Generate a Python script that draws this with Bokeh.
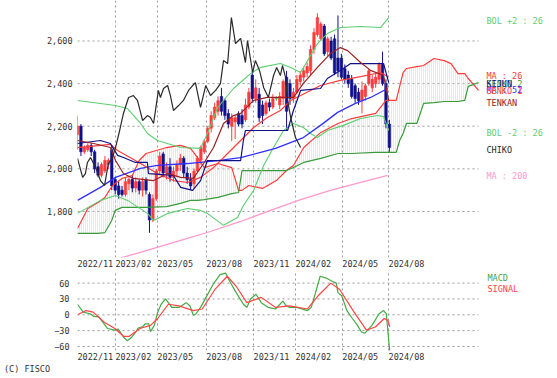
from bokeh.plotting import figure
from bokeh.layouts import column
from bokeh.models import Range1d, FixedTicker, NumeralTickFormatter, Label, Grid, Div
from bokeh.embed import file_html
from bokeh.resources import INLINE

# ---------------- data (weekly candles, index = week number) ----------------
weeks = list(range(92))
opens = [2160, 2200, 2080, 2090, 2110, 2080, 2010, 1970, 1990, 2020,
         2090, 1950, 1920, 1900, 1880, 1930, 1950, 1910, 1940, 1900,
         1950, 1880, 1760, 1860, 1990, 2070, 1980, 2010, 1960, 1990,
         2020, 2050, 1980, 1950, 1930, 1990, 2040, 2080, 2130, 2190,
         2240, 2270, 2340, 2320, 2260, 2200, 2220, 2260, 2250, 2230,
         2290, 2440, 2330, 2350, 2300, 2260, 2310, 2290, 2330, 2300,
         2330, 2430, 2400, 2330, 2360, 2410, 2430, 2450, 2460, 2560,
         2630, 2610, 2670, 2550, 2600, 2610, 2520, 2520, 2470, 2440,
         2420, 2390, 2360, 2320, 2340, 2400, 2380, 2400, 2420, 2490,
         2400, 2210]
highs = [2250, 2210, 2110, 2120, 2120, 2090, 2030, 2030, 2060, 2050,
         2110, 1960, 1940, 1920, 1960, 1960, 1970, 1960, 1950, 1960,
         1960, 1890, 1880, 2000, 2080, 2080, 2030, 2050, 2010, 2040,
         2070, 2060, 2010, 1980, 2000, 2060, 2110, 2140, 2200, 2270,
         2310, 2340, 2380, 2330, 2280, 2260, 2250, 2270, 2280, 2330,
         2380, 2460, 2420, 2380, 2320, 2320, 2330, 2350, 2340, 2360,
         2420, 2460, 2420, 2380, 2440, 2460, 2480, 2500, 2580, 2660,
         2730, 2690, 2680, 2620, 2620, 2630, 2720, 2540, 2490, 2460,
         2440, 2400, 2380, 2410, 2400, 2470, 2440, 2450, 2500, 2550,
         2420, 2230]
lows = [2090, 2060, 2070, 2080, 2060, 1980, 1960, 1960, 1980, 2000,
        1900, 1880, 1860, 1870, 1870, 1900, 1890, 1890, 1880, 1870,
        1880, 1700, 1750, 1850, 1970, 1960, 1950, 1940, 1940, 1960,
        1990, 1960, 1930, 1900, 1910, 1980, 2020, 2070, 2120, 2170,
        2230, 2250, 2250, 2230, 2190, 2130, 2140, 2200, 2190, 2220,
        2280, 2310, 2310, 2220, 2210, 2250, 2270, 2280, 2320, 2280,
        2300, 2180, 2300, 2310, 2350, 2390, 2410, 2430, 2440, 2540,
        2620, 2600, 2530, 2530, 2510, 2440, 2430, 2420, 2400, 2380,
        2330, 2310, 2300, 2260, 2320, 2390, 2360, 2380, 2400, 2390,
        2190, 2080]
closes = [2200, 2080, 2100, 2110, 2080, 2000, 1970, 2020, 2040, 2040,
          1920, 1900, 1880, 1880, 1940, 1950, 1910, 1940, 1900, 1940,
          1900, 1760, 1860, 1990, 2060, 1980, 2010, 1960, 1990, 2020,
          2050, 1980, 1950, 1920, 1990, 2050, 2100, 2130, 2190, 2250,
          2290, 2320, 2270, 2250, 2210, 2240, 2240, 2210, 2210, 2300,
          2360, 2330, 2380, 2240, 2250, 2310, 2290, 2330, 2330, 2340,
          2410, 2270, 2330, 2360, 2420, 2440, 2460, 2480, 2560, 2640,
          2710, 2680, 2540, 2610, 2520, 2450, 2460, 2430, 2420, 2400,
          2340, 2330, 2320, 2370, 2390, 2460, 2420, 2430, 2490, 2400,
          2210, 2100]

# Ichimoku cloud (senkou spans, shifted 26 weeks ahead)
senkou_weeks = [0, 3, 6, 8, 10, 11, 13, 16, 18, 20, 26, 30, 33, 35, 37, 41, 45, 47, 48, 50,
                54, 58, 61, 63, 66, 71, 76, 80, 87, 90, 93, 94, 95, 96, 99, 101, 104, 107,
                109, 111, 113, 114, 117]
senkou1 = [1720, 1814, 1842, 1866, 1917, 1931, 1955, 1969, 2039, 2072, 2100, 2110, 2096, 2053,
           2006, 2025, 2006, 1899, 1899, 1922, 1908, 1945, 1992, 2016, 2100, 2171, 2213, 2236,
           2260, 2321, 2321, 2387, 2452, 2471, 2480, 2485, 2518, 2508, 2494, 2447, 2447, 2424,
           2368]
senkou2 = [1697, 1697, 1697, 1701, 1758, 1805, 1819, 1819, 1819, 1819, 1823, 1838, 1852, 1852,
           1856, 1866, 1884, 1889, 1992, 1992, 1992, 1992, 1992, 2006, 2030, 2049, 2072, 2072,
           2077, 2077, 2077, 2133, 2166, 2213, 2213, 2307, 2311, 2316, 2316, 2316, 2321, 2387,
           2405]

chiko_weeks = [0, 1.5, 2.3, 2.9, 3.8, 5.3, 6.7, 7.9, 9.0, 10.2, 11.1, 12.3, 13.4, 14.9, 16.3,
               17.5, 19.0, 20.4, 21.3, 22.2, 23.6, 24.2, 25.1, 26.3, 27.1, 28.0, 29.5, 30.9,
               32.4, 33.6, 34.4, 35.9, 37.4, 38.8, 40.3, 41.7, 42.6, 43.8, 44.9, 46.1, 47.6,
               49.0, 49.6, 51.1, 51.9, 53.1, 54.3, 55.7, 57.2, 58.1, 59.2, 59.8, 60.7, 61.3,
               62.2, 63.6, 65.1]
chiko = [2049, 1960, 1978, 2030, 2053, 2006, 1945, 1922, 2025, 2053, 2100, 2180, 2260, 2335,
         2344, 2321, 2227, 2250, 2241, 2213, 2368, 2335, 2377, 2391, 2344, 2274, 2297, 2321,
         2368, 2391, 2405, 2288, 2391, 2344, 2368, 2400, 2508, 2494, 2710, 2588, 2612, 2499,
         2602, 2452, 2508, 2462, 2382, 2335, 2438, 2476, 2438, 2485, 2429, 2321, 2241, 2147,
         2100]

ma26_weeks = [0, 9.6, 11.7, 18.4, 23.3, 28.0, 32.1, 35.9, 39.7, 43.8, 47.6, 51.4, 55.4, 59.2,
              62.2, 65.1, 70.9, 76.7, 82.6, 88.4, 90.5]
ma26 = [2100, 2115, 2086, 2025, 1978, 1945, 1936, 1960, 2006, 2072, 2133, 2194, 2241, 2274,
        2321, 2344, 2391, 2415, 2433, 2452, 2433]

ma52_weeks = [0, 6.7, 11.1, 18.4, 23.3, 32.1, 40.9, 47.6, 53.4, 57.8, 65.9, 70.9, 75.9, 81.1,
              85.5, 90.5]
ma52 = [1852, 1913, 1960, 2002, 2016, 2025, 2039, 2053, 2077, 2096, 2147, 2204, 2265, 2307,
        2335, 2377]

ma200_weeks = [12.0, 21.3, 30.1, 38.8, 47.6, 56.3, 65.1, 73.8, 82.6, 90.5]
ma200 = [1579, 1622, 1664, 1706, 1753, 1805, 1856, 1899, 1936, 1969]

bolu_weeks = [0, 6.7, 11.1, 14.6, 18.4, 20.4, 23.3, 30.1, 35.9, 37.9, 40.9, 45.5, 50.5, 53.4,
              59.2, 62.2, 65.1, 68.0, 70.0, 72.9, 76.7, 82.6, 88.4, 90.8]
bol_up = [2321, 2307, 2297, 2283, 2213, 2166, 2133, 2100, 2096, 2166, 2288, 2377, 2447, 2476,
          2494, 2476, 2452, 2532, 2588, 2635, 2663, 2668, 2663, 2710]

boll_weeks = [0, 6.7, 11.1, 14.6, 20.4, 22.2, 26.3, 32.1, 35.9, 37.9, 42.6, 46.7, 48.4, 51.4,
              54.3, 57.2, 60.1, 63.0, 65.9, 68.0, 70.0, 72.9, 77.6, 82.6, 87.5, 89.3, 90.8]
bol_low = [1791, 1852, 1875, 1852, 1791, 1758, 1791, 1814, 1805, 1791, 1735, 1772, 1828, 1899,
           2016, 2100, 2180, 2213, 2194, 2166, 2147, 2180, 2204, 2236, 2250, 2245, 2180]

tenkan_weeks = [0, 4.7, 9.6, 11.1, 13.4, 16.3, 22.2, 26.3, 30.1, 33.8, 36.8, 39.7, 42.6, 45.5,
                47.6, 51.4, 55.4, 63.0, 65.9, 70.0, 73.8, 76.7, 78.8, 82.6, 85.5, 89.3, 90.8]
tenkan = [2133, 2119, 2100, 2039, 1978, 1955, 1945, 1978, 1960, 1955, 2025, 2100, 2213, 2250,
          2260, 2321, 2335, 2335, 2401, 2476, 2541, 2569, 2555, 2499, 2462, 2438, 2321]

kijun_weeks = [0, 6.7, 9.6, 11.7, 13.4, 16.9, 20.4, 20.7, 28.0, 30.1, 33.6, 35.9, 37.9, 47.6,
               48.4, 49.0, 61.3, 63.0, 65.1, 70.9, 72.9, 76.7, 79.7, 89.3, 90.8]
kijun = [2119, 2133, 2119, 2063, 2053, 2030, 2030, 1978, 1969, 1913, 1899, 1945, 2039, 2039,
         2133, 2180, 2180, 2274, 2368, 2377, 2424, 2462, 2494, 2494, 2405]

macd_weeks = [0.0, 1.7, 3.6, 4.8, 6.2, 8.8, 10.9, 11.9, 13.5, 14.5, 15.6, 17.1, 17.7, 19.0,
              19.7, 20.8, 21.3, 22.4, 23.4, 24.4, 25.7, 26.5, 27.5, 29.6, 31.7, 32.8, 33.8,
              34.6, 35.9, 37.5, 39.5, 41.6, 43.2, 44.2, 46.3, 48.4, 49.4, 50.5, 52.1, 53.6,
              55.7, 57.8, 59.9, 60.9, 61.9, 64.0, 67.1, 68.2, 69.2, 70.8, 72.4, 74.4, 75.5,
              76.0, 77.1, 78.6, 80.2, 81.7, 82.8, 83.8, 85.9, 88.0, 89.3, 90.1, 91.1]
macd = [20, 5, 2, -3, -4, -26, -29, -27, -43, -49, -44, -32, -25, -23, -17, -17, -32, -20, 5,
        20, 30, 23, 14, 14, 23, 17, -1, 2, 14, 33, 57, 76, 79, 66, 42, 20, 14, 30, 39, 23, 14,
        11, 26, 17, 14, 14, 8, 14, 36, 73, 70, 63, 60, 42, 36, 8, -7, -20, -32, -35, -20, 2, 8,
        2, -69]
signal_weeks = [0.0, 2.5, 4.6, 7.8, 10.9, 13.5, 15.0, 18.2, 21.3, 23.4, 26.5, 29.6, 33.8, 36.4,
                40.1, 43.7, 46.3, 49.4, 53.6, 57.8, 61.9, 67.1, 70.2, 73.9, 76.5, 80.7, 84.3,
                86.9, 89.5, 90.6, 91.1]
signal = [0, 8, 5, -14, -26, -41, -41, -26, -20, -7, 20, 17, 8, 11, 48, 73, 54, 23, 33, 14, 17,
          11, 36, 60, 48, 5, -29, -23, -7, -11, -23]

grid_weeks = [0, 11.1, 23.3, 37.6, 51.4, 63.6, 77.3, 90.8]
month_labels = ["2022/11", "2023/02", "2023/05", "2023/08", "2023/11", "2024/02", "2024/05", "2024/08"]
price_ticks = [1800, 2000, 2200, 2400, 2600]
macd_ticks = [-60, -30, 0, 30, 60]
chart_end_week = 117

# ---------------- styling / layout ----------------
FONT = "DejaVu Sans Mono"
FS = "8.5px"
TXT = "#333333"
GRIDC = "#999999"
DASH = "2 3"
RED = "#ff3b3b"
NAVY = "#10108a"
GREEN = "#3a9a3a"
LGREEN = "#5ccf70"
BLUE = "#3030ff"
PINK = "#ff99cc"
DRED = "#992222"
BLACK = "#2a2a2a"

PX_PER_WEEK = 401 / 117
FRAME_W = 480                  # frame spans chart area + right legend column
X0, X1 = 0, FRAME_W / PX_PER_WEEK
PY0, PY1 = 1584, 2790
MY0, MY1 = -67.6, 82.0
MAIN_H = 257
MACD_TOP = 270
MACD_H = 79
LABEL_SHIFT = 5.2              # centre of a tick label, right of its grid line (weeks)


def style(fig, hticks):
    fig.outline_line_color = None
    fig.background_fill_color = "white"
    fig.border_fill_color = "white"
    fig.ygrid.grid_line_color = None
    fig.xgrid.grid_line_color = None
    for ax in (fig.yaxis[0], fig.xaxis[0]):
        ax.axis_line_color = None
        ax.major_tick_line_color = None
        ax.minor_tick_line_color = None
        ax.major_tick_out = 0
        ax.major_tick_in = 0
        ax.major_label_text_font = FONT
        ax.major_label_text_font_size = FS
        ax.major_label_text_color = TXT
    fig.yaxis.ticker = FixedTicker(ticks=hticks)
    label_pos = [round(k + LABEL_SHIFT, 2) for k in grid_weeks]
    fig.xaxis.ticker = FixedTicker(ticks=label_pos)
    fig.xaxis.major_label_overrides = {k: t for k, t in zip(label_pos, month_labels)}
    fig.xaxis.major_label_standoff = 1
    fig.add_layout(Grid(dimension=0, ticker=FixedTicker(ticks=grid_weeks),
                        grid_line_color=GRIDC, grid_line_dash=DASH))
    fig.segment(x0=[0] * len(hticks), x1=[chart_end_week] * len(hticks), y0=hticks, y1=hticks,
                line_color=GRIDC, line_dash=DASH, line_width=1)


p = figure(frame_width=FRAME_W, frame_height=MAIN_H, x_range=Range1d(X0, X1),
           y_range=Range1d(PY0, PY1), toolbar_location=None, output_backend="svg",
           min_border_left=77, min_border_right=0, min_border_top=0, min_border_bottom=13)
style(p, price_ticks)
p.yaxis.formatter = NumeralTickFormatter(format="0,0")
p.yaxis.major_label_standoff = 5

# cloud
p.varea(x=senkou_weeks, y1=senkou1, y2=senkou2, fill_color=None,
        hatch_pattern="vertical_line", hatch_color="#d2d2d2", hatch_scale=2, hatch_weight=1)

# candles
colors = [RED if c > o else (NAVY if c < o else GREEN) for o, c in zip(opens, closes)]
tops = [max(o, c) for o, c in zip(opens, closes)]
bots = [min(o, c) for o, c in zip(opens, closes)]
p.segment(x0=weeks, y0=lows, x1=weeks, y1=highs, color=colors, line_width=1)
p.vbar(x=weeks, width=0.72, top=tops, bottom=bots, fill_color=colors, line_color=colors,
       line_width=0.6)

# indicator lines
p.line(senkou_weeks, senkou1, color=RED, line_width=1.2)
p.line(senkou_weeks, senkou2, color=GREEN, line_width=1.2)
p.line(ma200_weeks, ma200, color=PINK, line_width=1.3)
p.line(bolu_weeks, bol_up, color=LGREEN, line_width=1.1)
p.line(boll_weeks, bol_low, color=LGREEN, line_width=1.1)
p.line(ma52_weeks, ma52, color=BLUE, line_width=1.3)
p.line(ma26_weeks, ma26, color=RED, line_width=1.2)
p.line(kijun_weeks, kijun, color=NAVY, line_width=1.2)
p.line(tenkan_weeks, tenkan, color=DRED, line_width=1.2)
p.line(chiko_weeks, chiko, color=BLACK, line_width=1.2)


def mx(px):
    return (px - 77) / PX_PER_WEEK


def my(py):
    return PY1 - py * (PY1 - PY0) / MAIN_H


def add_text(fig, x, y, text, color):
    fig.add_layout(Label(x=x, y=y, text=text, text_color=color, text_font=FONT,
                         text_font_size=FS, text_align="left", text_baseline="middle"))


right_labels = [("BOL +2 : 26", LGREEN, 20), ("MA : 26", RED, 75), ("SENKO 2", GREEN, 83),
                ("KIJUN", NAVY, 83), ("MA : 52", BLUE, 89), ("SENKO 1", RED, 90),
                ("TENKAN", DRED, 102), ("BOL -2 : 26", LGREEN, 132), ("CHIKO", BLACK, 149),
                ("MA : 200", PINK, 175)]
for t, c, py in right_labels:
    add_text(p, mx(486), my(py), t, c)

# ---------------- MACD panel ----------------
q = figure(frame_width=FRAME_W, frame_height=MACD_H, x_range=p.x_range,
           y_range=Range1d(MY0, MY1), toolbar_location=None, output_backend="svg",
           min_border_left=77, min_border_right=0, min_border_top=0, min_border_bottom=13)
style(q, macd_ticks)
q.yaxis.major_label_standoff = 8
q.line(macd_weeks, macd, color="#44aa44", line_width=1.2)
q.line(signal_weeks, signal, color="#ff4444", line_width=1.2)


def qy(py):
    return MY1 - (py - MACD_TOP) * (MY1 - MY0) / MACD_H


add_text(q, mx(487), qy(276), "MACD", "#44aa44")
add_text(q, mx(487), qy(287), "SIGNAL", "#ff4444")

copy = Div(text="(C) FISCO", width=120, height=14, margin=(0, 0, 0, 4),
           styles={"font-family": FONT, "font-size": FS, "color": TXT, "line-height": "10px",
                   "padding-top": "0px"})

layout = column(p, q, copy, spacing=0)
open("out.html", "w").write(file_html(layout, INLINE))
